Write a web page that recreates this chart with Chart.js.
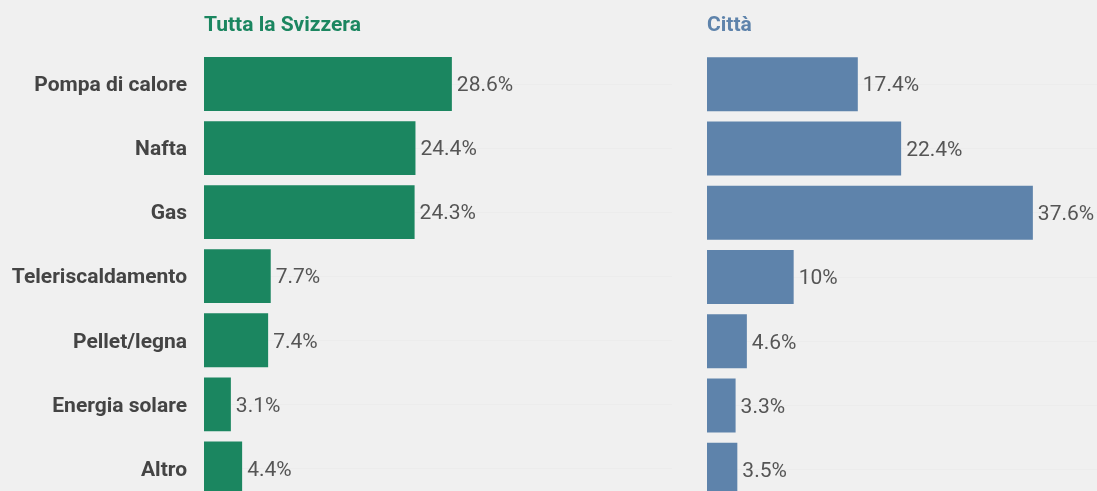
<!DOCTYPE html>
<html>
<head>
<meta charset="utf-8">
<script src="https://cdn.jsdelivr.net/npm/chart.js@4"></script>
<style>
  html, body { margin: 0; padding: 0; background: #f0f0f0; overflow: hidden; }
  body { width: 1097px; height: 491px; position: relative; }
  .box { position: absolute; top: 0; height: 502px; }
  #boxLeft { left: 0; width: 672px; height: 530px; }
  #boxRight { left: 707px; width: 390px; }
</style>
</head>
<body>
<div class="box" id="boxLeft"><canvas id="chartLeft"></canvas></div>
<div class="box" id="boxRight"><canvas id="chartRight"></canvas></div>
<script>
const categories = ["Pompa di calore", "Nafta", "Gas", "Teleriscaldamento", "Pellet/legna", "Energia solare", "Altro"];
const svizzera = [28.6, 24.4, 24.3, 7.7, 7.4, 3.1, 4.4];
const citta = [17.4, 22.4, 37.6, 10, 4.6, 3.3, 3.5];

const green = "#1b8660";
const blue = "#5e83ab";

Chart.defaults.font.family = "Roboto, 'Noto Sans', sans-serif";
Chart.defaults.animation = false;

// values next to the bars + panel title
const barLabels = {
  id: "barLabels",
  afterDatasetsDraw(chart, args, opts) {
    const ctx = chart.ctx;
    const meta = chart.getDatasetMeta(0);
    ctx.save();
    ctx.font = "21px Roboto";
    ctx.fillStyle = "#555555";
    ctx.textAlign = "left";
    ctx.textBaseline = "middle";
    meta.data.forEach((bar, i) => {
      const v = chart.data.datasets[0].data[i];
      ctx.fillText(v + "%", bar.x + 5, bar.y + 2);
    });
    ctx.font = "bold 21px Roboto";
    ctx.fillStyle = opts.color;
    ctx.fillText(opts.text, chart.chartArea.left, 26);
    ctx.restore();
  }
};

const makeChart = (id, values, color, title, max, showLabels) => {
  return new Chart(document.getElementById(id), {
    type: "bar",
    data: {
      labels: categories,
      datasets: [{
        data: values,
        backgroundColor: color,
        borderWidth: 0,
        categoryPercentage: 0.84,
        barPercentage: 1
      }]
    },
    options: {
      indexAxis: "y",
      responsive: true,
      maintainAspectRatio: false,
      layout: { padding: { top: 52, right: 0, bottom: 0, left: 0 } },
      plugins: {
        legend: { display: false },
        tooltip: { enabled: false },
        barLabels: { text: title, color: color }
      },
      scales: {
        x: { display: false, min: 0, max: max },
        y: {
          display: true,
          border: { display: false },
          grid: { color: "rgba(0,0,0,0.014)", drawTicks: false, offset: false },
          ticks: {
            display: showLabels,
            padding: 17,
            labelOffset: 2,
            color: "#444444",
            font: { size: 21, weight: "bold" }
          },
          afterFit: (scale) => { scale.width = showLabels ? 204 : 0; }
        }
      }
    },
    plugins: [barLabels]
  });
};

makeChart("chartLeft", svizzera, green, "Tutta la Svizzera", 54, true);
makeChart("chartRight", citta, blue, "Città", 45, false);
</script>
</body>
</html>
